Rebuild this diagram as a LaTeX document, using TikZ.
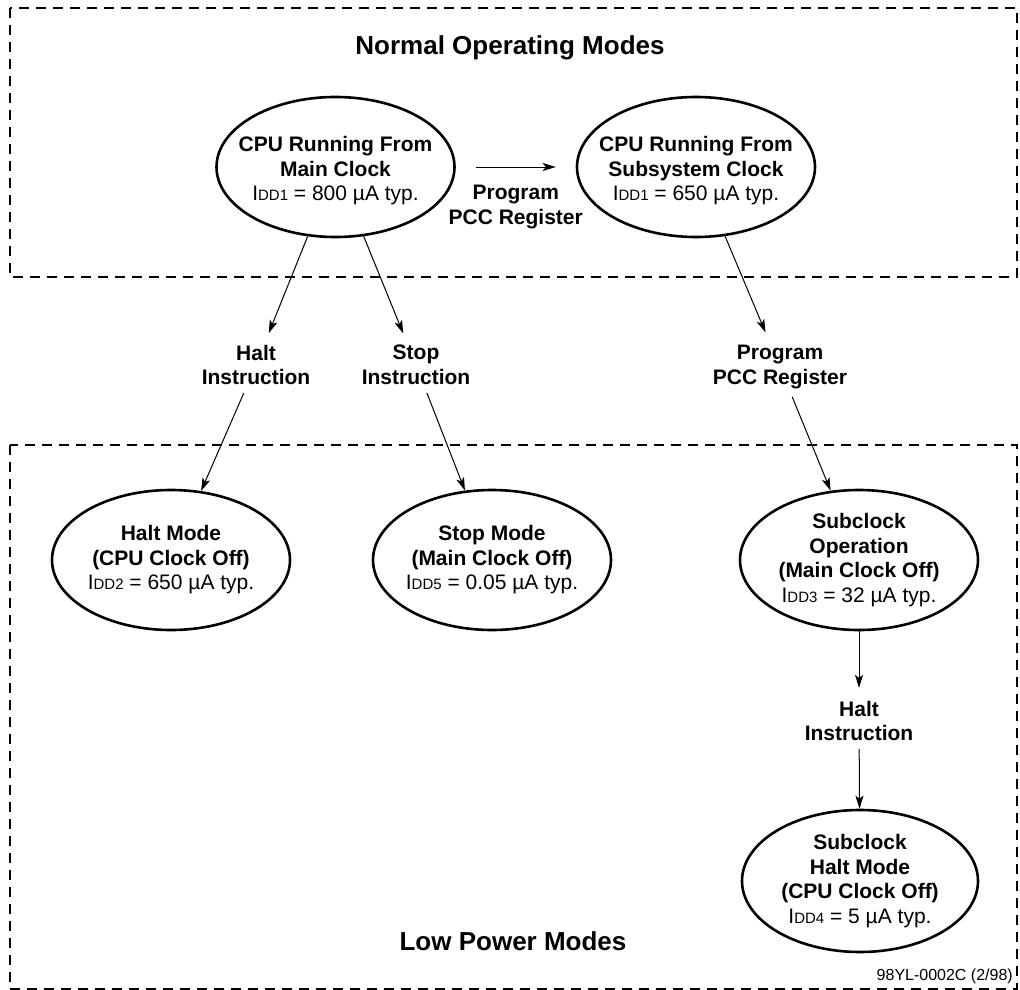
\documentclass[tikz,border=0pt]{standalone}
\usepackage{fontspec}
\setmainfont{Liberation Sans}
\usetikzlibrary{shapes.geometric,arrows.meta}
\newcommand\idd[1]{I{\fontsize{15}{15}\selectfont DD#1}}
\begin{document}
\begin{tikzpicture}[x=1pt,y=-1pt,
  ell/.style={ellipse, draw, line width=2.6pt, minimum width=238pt, minimum height=140pt, inner sep=0pt},
  txt/.style={align=center, inner sep=0pt, font=\fontsize{21}{24.5}\selectfont\bfseries},
  lbl/.style={align=center, inner xsep=2pt, inner ysep=8pt, font=\fontsize{21}{24.5}\selectfont\bfseries},
  arr/.style={line width=1pt, -{Stealth[length=13pt,width=8pt,inset=3pt]}},
  region/.style={draw, line width=1.2pt, dash pattern=on 10pt off 7pt},
  title/.style={font=\fontsize{26}{30}\selectfont\bfseries, inner sep=0pt},
  note/.style={font=\fontsize{16}{19}\selectfont, inner sep=0pt}]
\useasboundingbox (0,0) rectangle (1020,990);

% regions
\draw[region] (10,8) rectangle (1017,277);
\draw[region] (10,445) rectangle (1017,989);
\node[title, anchor=base] (tNormal) at (510,55) {Normal Operating Modes};
\node[title, anchor=base] (tLow) at (513,950) {Low Power Modes};
\node[note, anchor=base east] (ref) at (1013,980) {98YL-0002C (2/98)};

% ellipses
\node[ell] (e1) at (335.5,167) {};
\node[txt] (e1t) at (335.5,171) {CPU Running From\\Main Clock\\\textmd{\idd{1} = 800 µA typ.}};
\node[ell] (e2) at (696,167) {};
\node[txt] (e2t) at (696,171) {CPU Running From\\Subsystem Clock\\\textmd{\idd{1} = 650 µA typ.}};
\node[ell] (e3) at (171,560) {};
\node[txt] (e3t) at (171,560) {Halt Mode\\(CPU Clock Off)\\\textmd{\idd{2} = 650 µA typ.}};
\node[ell] (e4) at (492,560) {};
\node[txt] (e4t) at (492,560) {Stop Mode\\(Main Clock Off)\\\textmd{\idd{5} = 0.05 µA typ.}};
\node[ell] (e5) at (859,560) {};
\node[txt] (e5t) at (859,560) {Subclock\\Operation\\(Main Clock Off)\\\textmd{\idd{3} = 32 µA typ.}};
\node[ell, minimum height=142pt, minimum width=236pt] (e6) at (860,881) {};
\node[txt] (e6t) at (860,881) {Subclock\\Halt Mode\\(CPU Clock Off)\\\textmd{\idd{4} = 5 µA typ.}};

% labels
\node[lbl] (lHalt) at (256,365) {Halt\\Instruction};
\node[lbl] (lStop) at (416,365) {Stop\\Instruction};
\node[lbl] (lPCC) at (780,367) {Program\\PCC Register};
\node[lbl] (lHalt2) at (859,721) {Halt\\Instruction};

% connectors
\draw[arr, shorten <=20pt, shorten >=20pt] (e1) -- (e2)
  node[lbl, midway, below=10pt] (lTop) {Program\\PCC Register};
\draw[arr, shorten >=4pt] (e1) -- (lHalt);
\draw[arr] (lHalt) -- (e3);
\draw[arr, shorten >=4pt] (e1) -- (lStop);
\draw[arr] (lStop) -- (e4);
\draw[arr, shorten >=5pt] (e2) -- (lPCC);
\draw[arr] (lPCC) -- (e5);
\draw[arr, shorten >=5pt] (e5) -- (lHalt2);
\draw[arr] (lHalt2) -- (e6);
\end{tikzpicture}
\end{document}
